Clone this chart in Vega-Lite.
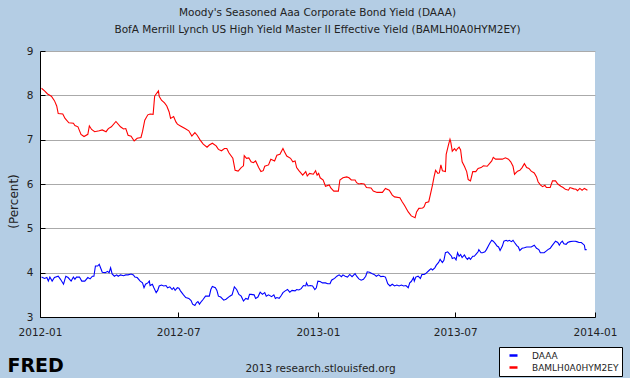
{
"$schema": "https://vega.github.io/schema/vega-lite/v6.json",
"width": 555, "height": 266,
"autosize": {"type": "none"},
"padding": {"left": 40, "top": 51, "right": 35, "bottom": 61},
"background": "#b4cde4",
"title": {"text": ["Moody's Seasoned Aaa Corporate Bond Yield (DAAA)", "BofA Merrill Lynch US High Yield Master II Effective Yield (BAMLH0A0HYM2EY)"], "fontSize": 10.5, "fontWeight": "normal", "color": "#222", "anchor": "middle", "baseline": "bottom", "offset": 1, "lineHeight": 17, "font": "DejaVu Sans"},
"datasets": {
"daaa": [
{"date":"2012-01-03","value":3.90},{"date":"2012-01-07","value":3.87},{"date":"2012-01-10","value":3.89},{"date":"2012-01-12","value":3.81},{"date":"2012-01-14","value":3.90},{"date":"2012-01-17","value":3.81},{"date":"2012-01-20","value":3.89},{"date":"2012-01-25","value":3.92},{"date":"2012-01-28","value":3.85},{"date":"2012-02-01","value":3.74},{"date":"2012-02-04","value":3.92},{"date":"2012-02-07","value":3.89},{"date":"2012-02-11","value":3.81},{"date":"2012-02-14","value":3.90},{"date":"2012-02-16","value":3.85},{"date":"2012-02-18","value":3.90},{"date":"2012-02-22","value":3.90},{"date":"2012-02-25","value":3.81},{"date":"2012-02-29","value":3.81},{"date":"2012-03-04","value":3.89},{"date":"2012-03-07","value":3.86},{"date":"2012-03-10","value":3.92},{"date":"2012-03-12","value":3.92},{"date":"2012-03-14","value":4.15},{"date":"2012-03-17","value":4.15},{"date":"2012-03-19","value":4.19},{"date":"2012-03-21","value":4.10},{"date":"2012-03-23","value":4.01},{"date":"2012-03-27","value":4.00},{"date":"2012-03-30","value":4.03},{"date":"2012-04-01","value":4.00},{"date":"2012-04-03","value":4.11},{"date":"2012-04-05","value":3.97},{"date":"2012-04-08","value":3.92},{"date":"2012-04-11","value":3.95},{"date":"2012-04-13","value":3.92},{"date":"2012-04-16","value":3.95},{"date":"2012-04-20","value":3.93},{"date":"2012-04-23","value":3.95},{"date":"2012-04-26","value":3.95},{"date":"2012-04-30","value":3.97},{"date":"2012-05-03","value":3.95},{"date":"2012-05-05","value":3.90},{"date":"2012-05-08","value":3.89},{"date":"2012-05-12","value":3.81},{"date":"2012-05-15","value":3.77},{"date":"2012-05-17","value":3.66},{"date":"2012-05-19","value":3.74},{"date":"2012-05-22","value":3.77},{"date":"2012-05-24","value":3.81},{"date":"2012-05-25","value":3.71},{"date":"2012-05-28","value":3.74},{"date":"2012-05-30","value":3.66},{"date":"2012-06-02","value":3.55},{"date":"2012-06-04","value":3.60},{"date":"2012-06-06","value":3.70},{"date":"2012-06-09","value":3.72},{"date":"2012-06-12","value":3.70},{"date":"2012-06-15","value":3.71},{"date":"2012-06-17","value":3.66},{"date":"2012-06-20","value":3.68},{"date":"2012-06-23","value":3.62},{"date":"2012-06-25","value":3.66},{"date":"2012-06-27","value":3.60},{"date":"2012-06-30","value":3.66},{"date":"2012-07-02","value":3.65},{"date":"2012-07-04","value":3.59},{"date":"2012-07-08","value":3.50},{"date":"2012-07-11","value":3.44},{"date":"2012-07-15","value":3.42},{"date":"2012-07-18","value":3.37},{"date":"2012-07-20","value":3.29},{"date":"2012-07-23","value":3.26},{"date":"2012-07-25","value":3.32},{"date":"2012-07-27","value":3.35},{"date":"2012-07-29","value":3.29},{"date":"2012-08-01","value":3.36},{"date":"2012-08-03","value":3.40},{"date":"2012-08-06","value":3.47},{"date":"2012-08-11","value":3.47},{"date":"2012-08-13","value":3.62},{"date":"2012-08-15","value":3.69},{"date":"2012-08-19","value":3.66},{"date":"2012-08-21","value":3.60},{"date":"2012-08-23","value":3.47},{"date":"2012-08-26","value":3.45},{"date":"2012-08-30","value":3.38},{"date":"2012-09-02","value":3.40},{"date":"2012-09-07","value":3.47},{"date":"2012-09-10","value":3.50},{"date":"2012-09-13","value":3.68},{"date":"2012-09-16","value":3.62},{"date":"2012-09-19","value":3.51},{"date":"2012-09-22","value":3.47},{"date":"2012-09-25","value":3.36},{"date":"2012-09-28","value":3.42},{"date":"2012-10-01","value":3.40},{"date":"2012-10-03","value":3.51},{"date":"2012-10-05","value":3.51},{"date":"2012-10-09","value":3.50},{"date":"2012-10-11","value":3.42},{"date":"2012-10-14","value":3.45},{"date":"2012-10-17","value":3.56},{"date":"2012-10-20","value":3.51},{"date":"2012-10-23","value":3.55},{"date":"2012-10-25","value":3.47},{"date":"2012-10-28","value":3.50},{"date":"2012-11-01","value":3.46},{"date":"2012-11-04","value":3.50},{"date":"2012-11-06","value":3.42},{"date":"2012-11-08","value":3.44},{"date":"2012-11-11","value":3.42},{"date":"2012-11-14","value":3.49},{"date":"2012-11-16","value":3.55},{"date":"2012-11-19","value":3.59},{"date":"2012-11-22","value":3.62},{"date":"2012-11-25","value":3.56},{"date":"2012-11-28","value":3.60},{"date":"2012-12-02","value":3.59},{"date":"2012-12-04","value":3.62},{"date":"2012-12-07","value":3.61},{"date":"2012-12-10","value":3.64},{"date":"2012-12-13","value":3.71},{"date":"2012-12-16","value":3.70},{"date":"2012-12-17","value":3.77},{"date":"2012-12-19","value":3.70},{"date":"2012-12-22","value":3.71},{"date":"2012-12-25","value":3.70},{"date":"2012-12-28","value":3.62},{"date":"2012-12-30","value":3.66},{"date":"2013-01-01","value":3.81},{"date":"2013-01-04","value":3.80},{"date":"2013-01-07","value":3.77},{"date":"2013-01-11","value":3.77},{"date":"2013-01-14","value":3.75},{"date":"2013-01-17","value":3.75},{"date":"2013-01-19","value":3.83},{"date":"2013-01-21","value":3.85},{"date":"2013-01-23","value":3.87},{"date":"2013-01-26","value":3.92},{"date":"2013-01-29","value":3.95},{"date":"2013-02-01","value":3.91},{"date":"2013-02-03","value":3.95},{"date":"2013-02-06","value":3.92},{"date":"2013-02-09","value":3.90},{"date":"2013-02-12","value":3.96},{"date":"2013-02-15","value":3.91},{"date":"2013-02-19","value":3.98},{"date":"2013-02-21","value":3.92},{"date":"2013-02-24","value":3.86},{"date":"2013-02-27","value":3.83},{"date":"2013-03-02","value":3.85},{"date":"2013-03-05","value":3.92},{"date":"2013-03-07","value":4.02},{"date":"2013-03-10","value":4.01},{"date":"2013-03-13","value":3.98},{"date":"2013-03-16","value":3.96},{"date":"2013-03-19","value":3.92},{"date":"2013-03-22","value":3.95},{"date":"2013-03-25","value":3.91},{"date":"2013-03-28","value":3.92},{"date":"2013-03-31","value":3.90},{"date":"2013-04-03","value":3.75},{"date":"2013-04-06","value":3.70},{"date":"2013-04-09","value":3.74},{"date":"2013-04-12","value":3.70},{"date":"2013-04-15","value":3.72},{"date":"2013-04-18","value":3.70},{"date":"2013-04-21","value":3.72},{"date":"2013-04-24","value":3.70},{"date":"2013-04-27","value":3.71},{"date":"2013-04-30","value":3.66},{"date":"2013-05-02","value":3.77},{"date":"2013-05-04","value":3.80},{"date":"2013-05-07","value":3.89},{"date":"2013-05-08","value":3.81},{"date":"2013-05-10","value":3.90},{"date":"2013-05-13","value":3.92},{"date":"2013-05-16","value":3.87},{"date":"2013-05-18","value":3.96},{"date":"2013-05-21","value":3.96},{"date":"2013-05-23","value":3.98},{"date":"2013-05-28","value":4.06},{"date":"2013-05-30","value":4.09},{"date":"2013-06-01","value":4.06},{"date":"2013-06-04","value":4.11},{"date":"2013-06-06","value":4.17},{"date":"2013-06-09","value":4.23},{"date":"2013-06-11","value":4.30},{"date":"2013-06-14","value":4.23},{"date":"2013-06-16","value":4.28},{"date":"2013-06-18","value":4.45},{"date":"2013-06-21","value":4.47},{"date":"2013-06-23","value":4.43},{"date":"2013-06-26","value":4.37},{"date":"2013-06-27","value":4.32},{"date":"2013-06-30","value":4.34},{"date":"2013-07-02","value":4.29},{"date":"2013-07-04","value":4.45},{"date":"2013-07-06","value":4.37},{"date":"2013-07-08","value":4.41},{"date":"2013-07-10","value":4.34},{"date":"2013-07-13","value":4.40},{"date":"2013-07-15","value":4.34},{"date":"2013-07-17","value":4.30},{"date":"2013-07-19","value":4.34},{"date":"2013-07-21","value":4.30},{"date":"2013-07-24","value":4.37},{"date":"2013-07-26","value":4.37},{"date":"2013-07-29","value":4.43},{"date":"2013-07-31","value":4.47},{"date":"2013-08-01","value":4.52},{"date":"2013-08-04","value":4.45},{"date":"2013-08-06","value":4.45},{"date":"2013-08-09","value":4.47},{"date":"2013-08-11","value":4.52},{"date":"2013-08-14","value":4.62},{"date":"2013-08-16","value":4.68},{"date":"2013-08-18","value":4.73},{"date":"2013-08-20","value":4.71},{"date":"2013-08-23","value":4.65},{"date":"2013-08-25","value":4.60},{"date":"2013-08-27","value":4.58},{"date":"2013-08-29","value":4.50},{"date":"2013-09-01","value":4.60},{"date":"2013-09-03","value":4.71},{"date":"2013-09-06","value":4.73},{"date":"2013-09-08","value":4.71},{"date":"2013-09-10","value":4.73},{"date":"2013-09-13","value":4.70},{"date":"2013-09-15","value":4.73},{"date":"2013-09-17","value":4.68},{"date":"2013-09-20","value":4.61},{"date":"2013-09-22","value":4.58},{"date":"2013-09-24","value":4.50},{"date":"2013-09-27","value":4.55},{"date":"2013-09-30","value":4.56},{"date":"2013-10-03","value":4.58},{"date":"2013-10-06","value":4.58},{"date":"2013-10-09","value":4.58},{"date":"2013-10-13","value":4.62},{"date":"2013-10-16","value":4.55},{"date":"2013-10-19","value":4.52},{"date":"2013-10-21","value":4.45},{"date":"2013-10-24","value":4.45},{"date":"2013-10-26","value":4.45},{"date":"2013-10-29","value":4.49},{"date":"2013-10-31","value":4.52},{"date":"2013-11-03","value":4.55},{"date":"2013-11-05","value":4.60},{"date":"2013-11-10","value":4.71},{"date":"2013-11-13","value":4.68},{"date":"2013-11-15","value":4.62},{"date":"2013-11-17","value":4.68},{"date":"2013-11-19","value":4.71},{"date":"2013-11-21","value":4.65},{"date":"2013-11-24","value":4.64},{"date":"2013-11-26","value":4.68},{"date":"2013-11-29","value":4.70},{"date":"2013-12-03","value":4.71},{"date":"2013-12-06","value":4.71},{"date":"2013-12-08","value":4.70},{"date":"2013-12-11","value":4.68},{"date":"2013-12-14","value":4.68},{"date":"2013-12-16","value":4.65},{"date":"2013-12-18","value":4.62},{"date":"2013-12-19","value":4.52},{"date":"2013-12-21","value":4.52}
],
"baml": [
{"date":"2012-01-03","value":8.16},{"date":"2012-01-07","value":8.10},{"date":"2012-01-11","value":8.03},{"date":"2012-01-16","value":7.98},{"date":"2012-01-20","value":7.88},{"date":"2012-01-23","value":7.76},{"date":"2012-01-25","value":7.59},{"date":"2012-01-31","value":7.58},{"date":"2012-02-03","value":7.48},{"date":"2012-02-08","value":7.38},{"date":"2012-02-14","value":7.37},{"date":"2012-02-16","value":7.32},{"date":"2012-02-20","value":7.29},{"date":"2012-02-24","value":7.12},{"date":"2012-02-28","value":7.07},{"date":"2012-03-04","value":7.12},{"date":"2012-03-06","value":7.31},{"date":"2012-03-09","value":7.23},{"date":"2012-03-13","value":7.18},{"date":"2012-03-19","value":7.20},{"date":"2012-03-23","value":7.22},{"date":"2012-03-28","value":7.18},{"date":"2012-03-31","value":7.25},{"date":"2012-04-04","value":7.29},{"date":"2012-04-10","value":7.41},{"date":"2012-04-16","value":7.29},{"date":"2012-04-20","value":7.24},{"date":"2012-04-23","value":7.25},{"date":"2012-04-26","value":7.10},{"date":"2012-04-30","value":7.08},{"date":"2012-05-04","value":6.97},{"date":"2012-05-08","value":7.03},{"date":"2012-05-13","value":7.05},{"date":"2012-05-15","value":7.18},{"date":"2012-05-18","value":7.44},{"date":"2012-05-22","value":7.56},{"date":"2012-05-25","value":7.58},{"date":"2012-05-29","value":7.57},{"date":"2012-05-31","value":7.98},{"date":"2012-06-02","value":8.03},{"date":"2012-06-05","value":8.10},{"date":"2012-06-06","value":7.98},{"date":"2012-06-09","value":7.89},{"date":"2012-06-13","value":7.83},{"date":"2012-06-16","value":7.76},{"date":"2012-06-19","value":7.63},{"date":"2012-06-21","value":7.48},{"date":"2012-06-25","value":7.52},{"date":"2012-06-28","value":7.40},{"date":"2012-06-30","value":7.35},{"date":"2012-07-04","value":7.31},{"date":"2012-07-10","value":7.25},{"date":"2012-07-15","value":7.20},{"date":"2012-07-19","value":7.08},{"date":"2012-07-23","value":7.16},{"date":"2012-07-26","value":7.10},{"date":"2012-07-30","value":6.99},{"date":"2012-08-03","value":6.90},{"date":"2012-08-08","value":6.83},{"date":"2012-08-11","value":6.88},{"date":"2012-08-15","value":6.92},{"date":"2012-08-20","value":6.86},{"date":"2012-08-23","value":6.78},{"date":"2012-08-27","value":6.75},{"date":"2012-08-31","value":6.80},{"date":"2012-09-03","value":6.80},{"date":"2012-09-06","value":6.70},{"date":"2012-09-11","value":6.58},{"date":"2012-09-14","value":6.31},{"date":"2012-09-18","value":6.29},{"date":"2012-09-22","value":6.37},{"date":"2012-09-25","value":6.41},{"date":"2012-09-26","value":6.64},{"date":"2012-09-29","value":6.58},{"date":"2012-10-02","value":6.59},{"date":"2012-10-05","value":6.50},{"date":"2012-10-08","value":6.48},{"date":"2012-10-11","value":6.52},{"date":"2012-10-15","value":6.37},{"date":"2012-10-18","value":6.28},{"date":"2012-10-21","value":6.30},{"date":"2012-10-23","value":6.40},{"date":"2012-10-28","value":6.43},{"date":"2012-10-31","value":6.56},{"date":"2012-11-05","value":6.52},{"date":"2012-11-08","value":6.65},{"date":"2012-11-12","value":6.67},{"date":"2012-11-16","value":6.80},{"date":"2012-11-18","value":6.73},{"date":"2012-11-21","value":6.63},{"date":"2012-11-26","value":6.58},{"date":"2012-11-29","value":6.50},{"date":"2012-12-02","value":6.52},{"date":"2012-12-04","value":6.37},{"date":"2012-12-07","value":6.30},{"date":"2012-12-12","value":6.20},{"date":"2012-12-16","value":6.28},{"date":"2012-12-18","value":6.18},{"date":"2012-12-21","value":6.24},{"date":"2012-12-26","value":6.22},{"date":"2012-12-29","value":6.30},{"date":"2012-12-31","value":6.20},{"date":"2013-01-02","value":6.24},{"date":"2013-01-04","value":6.14},{"date":"2013-01-08","value":6.09},{"date":"2013-01-11","value":5.95},{"date":"2013-01-16","value":5.98},{"date":"2013-01-18","value":5.91},{"date":"2013-01-22","value":5.84},{"date":"2013-01-28","value":5.84},{"date":"2013-01-30","value":6.09},{"date":"2013-02-03","value":6.14},{"date":"2013-02-08","value":6.16},{"date":"2013-02-11","value":6.14},{"date":"2013-02-14","value":6.09},{"date":"2013-02-19","value":6.09},{"date":"2013-02-21","value":6.03},{"date":"2013-02-24","value":6.00},{"date":"2013-02-27","value":6.01},{"date":"2013-03-03","value":6.00},{"date":"2013-03-06","value":5.92},{"date":"2013-03-12","value":5.91},{"date":"2013-03-15","value":5.84},{"date":"2013-03-20","value":5.81},{"date":"2013-03-27","value":5.81},{"date":"2013-03-31","value":5.90},{"date":"2013-04-05","value":5.86},{"date":"2013-04-09","value":5.75},{"date":"2013-04-12","value":5.71},{"date":"2013-04-19","value":5.69},{"date":"2013-04-22","value":5.60},{"date":"2013-04-25","value":5.52},{"date":"2013-04-30","value":5.37},{"date":"2013-05-04","value":5.28},{"date":"2013-05-09","value":5.24},{"date":"2013-05-11","value":5.37},{"date":"2013-05-14","value":5.45},{"date":"2013-05-19","value":5.46},{"date":"2013-05-21","value":5.49},{"date":"2013-05-23","value":5.58},{"date":"2013-05-27","value":5.60},{"date":"2013-05-29","value":5.75},{"date":"2013-06-01","value":5.98},{"date":"2013-06-03","value":6.16},{"date":"2013-06-05","value":6.31},{"date":"2013-06-08","value":6.24},{"date":"2013-06-10","value":6.25},{"date":"2013-06-12","value":6.43},{"date":"2013-06-14","value":6.30},{"date":"2013-06-18","value":6.28},{"date":"2013-06-19","value":6.67},{"date":"2013-06-22","value":6.88},{"date":"2013-06-24","value":7.01},{"date":"2013-06-25","value":6.95},{"date":"2013-06-27","value":6.74},{"date":"2013-06-30","value":6.80},{"date":"2013-07-02","value":6.75},{"date":"2013-07-04","value":6.80},{"date":"2013-07-06","value":6.83},{"date":"2013-07-08","value":6.77},{"date":"2013-07-10","value":6.50},{"date":"2013-07-13","value":6.40},{"date":"2013-07-16","value":6.28},{"date":"2013-07-18","value":6.10},{"date":"2013-07-21","value":6.07},{"date":"2013-07-24","value":6.28},{"date":"2013-07-28","value":6.28},{"date":"2013-07-31","value":6.35},{"date":"2013-08-04","value":6.37},{"date":"2013-08-07","value":6.41},{"date":"2013-08-12","value":6.40},{"date":"2013-08-15","value":6.46},{"date":"2013-08-18","value":6.52},{"date":"2013-08-20","value":6.60},{"date":"2013-08-23","value":6.56},{"date":"2013-08-28","value":6.56},{"date":"2013-09-01","value":6.56},{"date":"2013-09-05","value":6.59},{"date":"2013-09-09","value":6.56},{"date":"2013-09-12","value":6.50},{"date":"2013-09-15","value":6.40},{"date":"2013-09-17","value":6.22},{"date":"2013-09-21","value":6.29},{"date":"2013-09-24","value":6.31},{"date":"2013-09-27","value":6.37},{"date":"2013-09-30","value":6.46},{"date":"2013-10-03","value":6.37},{"date":"2013-10-06","value":6.35},{"date":"2013-10-09","value":6.29},{"date":"2013-10-13","value":6.25},{"date":"2013-10-16","value":6.16},{"date":"2013-10-18","value":6.05},{"date":"2013-10-21","value":5.98},{"date":"2013-10-24","value":5.94},{"date":"2013-10-27","value":5.97},{"date":"2013-10-29","value":5.92},{"date":"2013-11-03","value":5.92},{"date":"2013-11-06","value":6.07},{"date":"2013-11-10","value":6.07},{"date":"2013-11-13","value":6.00},{"date":"2013-11-17","value":5.95},{"date":"2013-11-20","value":5.92},{"date":"2013-11-23","value":5.88},{"date":"2013-11-27","value":5.86},{"date":"2013-11-29","value":5.92},{"date":"2013-12-04","value":5.89},{"date":"2013-12-07","value":5.88},{"date":"2013-12-09","value":5.85},{"date":"2013-12-12","value":5.90},{"date":"2013-12-15","value":5.86},{"date":"2013-12-18","value":5.90},{"date":"2013-12-22","value":5.86}
]
},
"encoding": {
  "y": {"field": "value", "type": "quantitative",
        "scale": {"domain": [3, 9], "nice": false, "zero": false},
        "axis": {"values": [3,4,5,6,7,8,9], "grid": true, "gridColor": "#aaaaaa", "tickSize": -5, "tickColor": "black", "domainColor": "black", "labelPadding": 12, "labelFontSize": 10.5, "title": "(Percent)", "titleFontSize": 12, "titleFontWeight": "normal", "titleX": -27, "titleY": 150, "titleAngle": -90, "titleBaseline": "middle", "titleAlign": "center", "titleColor": "#222"}}
},
"layer": [
  {"data": {"name": "daaa"},
   "mark": {"type": "line", "strokeWidth": 1.1},
   "encoding": {
     "x": {"field": "date", "type": "temporal",
           "scale": {"domain": [{"year": 2012, "month": 1, "date": 1}, {"year": 2014, "month": 1, "date": 1}], "nice": false},
           "axis": {"orient": "bottom", "values": [{"year": 2012, "month": 1, "date": 1}, {"year": 2012, "month": 7, "date": 1}, {"year": 2013, "month": 1, "date": 1}, {"year": 2013, "month": 7, "date": 1}, {"year": 2014, "month": 1, "date": 1}], "format": "%Y-%m", "grid": false, "tickSize": -5, "tickColor": "black", "domainColor": "black", "labelPadding": 15, "labelFontSize": 10.5, "labelFlush": false, "labelOverlap": false, "title": "2013 research.stlouisfed.org", "titleFontSize": 10.5, "titleFontWeight": "normal", "titleX": 280, "titleY": 54, "titleBaseline": "alphabetic", "titleAlign": "center", "titleColor": "#222"}},
     "color": {"datum": "DAAA", "type": "nominal",
               "scale": {"domain": ["DAAA", "BAMLH0A0HYM2EY"], "range": ["#0000ff", "#ff0000"]},
               "legend": {"orient": "none", "legendX": 459, "legendY": 296, "title": null, "fillColor": "white", "strokeColor": "black", "padding": 3, "symbolType": "stroke", "symbolSize": 64, "symbolStrokeWidth": 2.5, "symbolOffset": 6, "labelOffset": 13, "labelFontSize": 9, "rowPadding": 1, "labelColor": "#222"}}
   }},
  {"data": {"name": "baml"},
   "mark": {"type": "line", "strokeWidth": 1.1},
   "encoding": {
     "x": {"field": "date", "type": "temporal",
           "axis": {"orient": "bottom", "labels": false, "ticks": false, "domain": false, "grid": false, "title": "FRED", "titleFontSize": 19, "titleFontWeight": "bold", "titleX": -33, "titleY": 54, "titleAlign": "left", "titleBaseline": "alphabetic", "titleColor": "black"}},
     "color": {"datum": "BAMLH0A0HYM2EY", "type": "nominal"}
   }}
],
"resolve": {"axis": {"x": "independent"}},
"config": {
  "font": "DejaVu Sans",
  "view": {"fill": "white", "stroke": null},
  "axis": {"labelColor": "#222", "labelFont": "DejaVu Sans", "titleFont": "DejaVu Sans", "domainWidth": 1, "tickWidth": 1, "gridWidth": 1}
}
}
